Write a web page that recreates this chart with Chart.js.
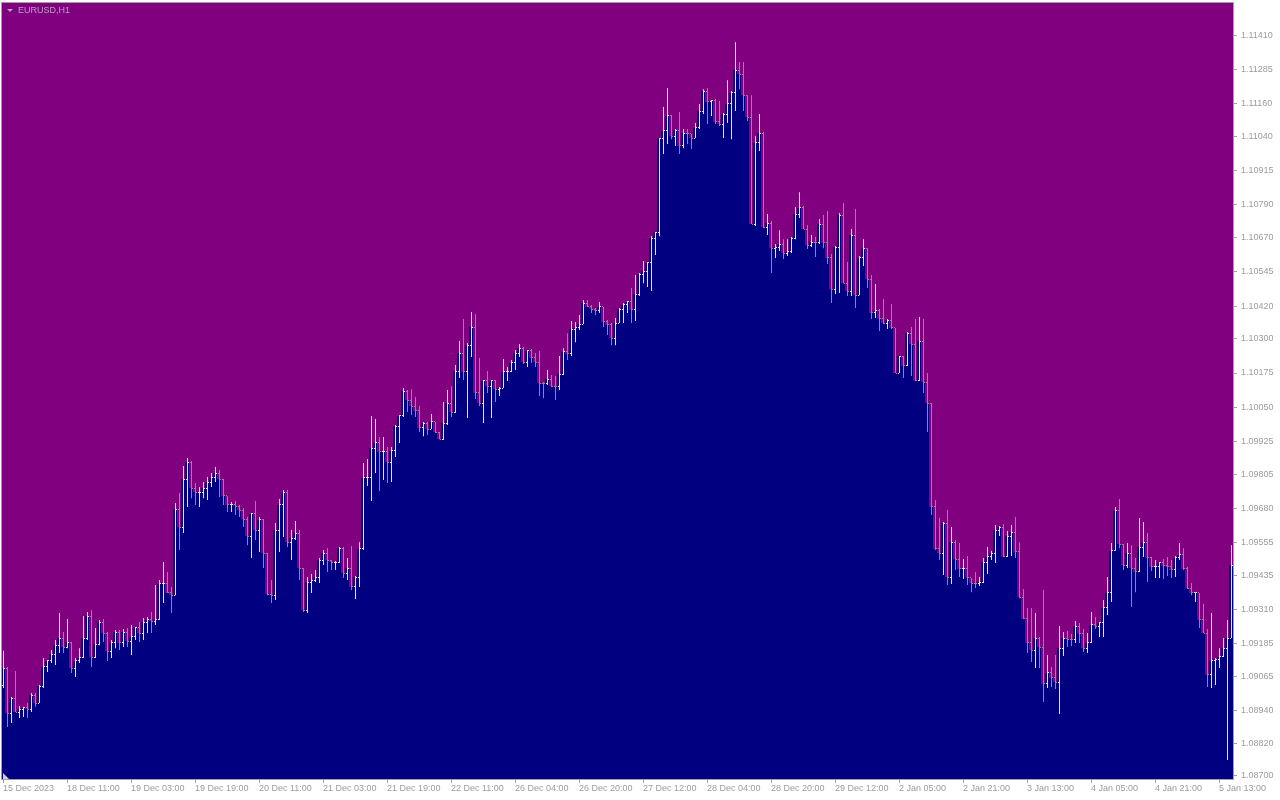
<!DOCTYPE html>
<html>
<head>
<meta charset="utf-8">
<script src="https://cdn.jsdelivr.net/npm/chart.js@4.4.1/dist/chart.umd.min.js"></script>
<style>
html,body{margin:0;padding:0;background:#ffffff;}
canvas{display:block;}
</style>
</head>
<body>
<canvas id="chart" width="1280" height="800"></canvas>
<script>
// ---------- data ----------
const symbolTitle = 'EURUSD,H1';
const TICK_EVERY = 16;
const tickLabels = ['15 Dec 2023','18 Dec 11:00','19 Dec 03:00','19 Dec 19:00','20 Dec 11:00','21 Dec 03:00','21 Dec 19:00','22 Dec 11:00','26 Dec 04:00','26 Dec 20:00','27 Dec 12:00','28 Dec 04:00','28 Dec 20:00','29 Dec 12:00','2 Jan 05:00','2 Jan 21:00','3 Jan 13:00','4 Jan 05:00','4 Jan 21:00','5 Jan 13:00'];
const yTickValues = [1.08700,1.08820,1.08940,1.09065,1.09185,1.09310,1.09435,1.09555,1.09680,1.09805,1.09925,1.10050,1.10175,1.10300,1.10420,1.10545,1.10670,1.10790,1.10915,1.11040,1.11160,1.11285,1.11410];
const Y_MIN = 1.08689;
const Y_MAX = 1.11533;

const open = [
1.09033,1.09095,1.08930,1.08985,1.08934,1.08945,1.08949,1.08945,1.08996,1.08967,
1.09029,1.09099,1.09121,1.09146,1.09179,1.09205,1.09172,1.09190,1.09095,1.09121,
1.09132,1.09205,1.09285,1.09135,1.09183,1.09263,1.09223,1.09157,1.09187,1.09227,
1.09187,1.09227,1.09194,1.09209,1.09245,1.09223,1.09263,1.09271,1.09267,1.09271,
1.09403,1.09406,1.09370,1.09362,1.09677,1.09611,1.09787,1.09849,1.09754,1.09739,
1.09739,1.09754,1.09776,1.09791,1.09809,1.09787,1.09725,1.09692,1.09692,1.09688,
1.09673,1.09640,1.09578,1.09659,1.09600,1.09637,1.09516,1.09366,1.09362,1.09600,
1.09692,1.09736,1.09556,1.09571,1.09589,1.09461,1.09307,1.09410,1.09417,1.09428,
1.09490,1.09516,1.09490,1.09483,1.09483,1.09534,1.09443,1.09461,1.09392,1.09428,
1.09531,1.09791,1.09794,1.09900,1.09919,1.09886,1.09886,1.09849,1.09890,1.09981,
1.10018,1.10109,1.10076,1.10054,1.10036,1.09974,1.09992,1.09970,1.09996,1.09959,
1.09933,1.09992,1.10065,1.10032,1.10182,1.10248,1.10179,1.10277,1.10343,1.10102,
1.10065,1.10146,1.10127,1.10146,1.10116,1.10120,1.10179,1.10182,1.10212,1.10248,
1.10266,1.10215,1.10256,1.10230,1.10215,1.10138,1.10135,1.10153,1.10127,1.10124,
1.10171,1.10252,1.10245,1.10336,1.10340,1.10354,1.10431,1.10417,1.10409,1.10402,
1.10417,1.10362,1.10351,1.10303,1.10358,1.10409,1.10424,1.10435,1.10406,1.10464,
1.10537,1.10548,1.10578,1.10669,1.10691,1.11035,1.11061,1.11116,1.11042,1.11064,
1.11006,1.11053,1.11050,1.11035,1.11072,1.11134,1.11207,1.11167,1.11171,1.11094,
1.11086,1.11123,1.11160,1.11200,1.11284,1.11269,1.11192,1.11112,1.10720,1.11017,
1.11053,1.10709,1.10724,1.10632,1.10636,1.10647,1.10614,1.10618,1.10669,1.10757,
1.10779,1.10702,1.10643,1.10654,1.10651,1.10720,1.10651,1.10596,1.10482,1.10636,
1.10753,1.10504,1.10475,1.10680,1.10460,1.10596,1.10632,1.10519,1.10395,1.10402,
1.10373,1.10358,1.10369,1.10340,1.10175,1.10237,1.10201,1.10321,1.10281,1.10146,
1.10292,1.10142,1.10065,1.09685,1.09531,1.09516,1.09626,1.09428,1.09556,1.09494,
1.09458,1.09458,1.09425,1.09406,1.09403,1.09410,1.09483,1.09502,1.09516,1.09600,
1.09611,1.09502,1.09578,1.09593,1.09520,1.09355,1.09275,1.09187,1.09161,1.09205,
1.09172,1.09037,1.09077,1.09059,1.09044,1.09168,1.09205,1.09201,1.09198,1.09249,
1.09220,1.09168,1.09187,1.09253,1.09249,1.09260,1.09315,1.09370,1.09524,1.09670,
1.09549,1.09472,1.09516,1.09461,1.09447,1.09538,1.09553,1.09498,1.09465,1.09465,
1.09480,1.09469,1.09465,1.09454,1.09498,1.09509,1.09458,1.09388,1.09370,1.09370,
1.09271,1.09223,1.09070,1.09121,1.09128,1.09136,1.09168,1.09205
];
const high = [
1.09158,1.09099,1.08989,1.09084,1.08956,1.08953,1.08967,1.09004,1.09004,1.09033,
1.09132,1.09125,1.09161,1.09198,1.09297,1.09227,1.09275,1.09190,1.09132,1.09168,
1.09286,1.09300,1.09308,1.09242,1.09271,1.09275,1.09227,1.09198,1.09234,1.09234,
1.09238,1.09242,1.09253,1.09245,1.09264,1.09278,1.09282,1.09300,1.09399,1.09417,
1.09483,1.09447,1.09392,1.09699,1.09736,1.09835,1.09864,1.09853,1.09772,1.09758,
1.09776,1.09794,1.09809,1.09831,1.09820,1.09787,1.09725,1.09703,1.09707,1.09692,
1.09681,1.09648,1.09663,1.09707,1.09648,1.09641,1.09516,1.09417,1.09626,1.09714,
1.09747,1.09747,1.09600,1.09633,1.09600,1.09461,1.09428,1.09439,1.09454,1.09498,
1.09527,1.09534,1.09491,1.09487,1.09538,1.09538,1.09498,1.09542,1.09432,1.09556,
1.09846,1.09860,1.10018,1.10007,1.09941,1.09941,1.09904,1.09904,1.09985,1.10021,
1.10120,1.10113,1.10116,1.10087,1.10054,1.09996,1.09996,1.10025,1.09996,1.09959,
1.10069,1.10113,1.10127,1.10204,1.10292,1.10373,1.10285,1.10398,1.10391,1.10230,
1.10149,1.10182,1.10149,1.10149,1.10124,1.10226,1.10197,1.10223,1.10259,1.10281,
1.10270,1.10259,1.10263,1.10248,1.10256,1.10142,1.10186,1.10168,1.10164,1.10237,
1.10266,1.10321,1.10365,1.10362,1.10387,1.10442,1.10442,1.10424,1.10413,1.10435,
1.10417,1.10369,1.10358,1.10376,1.10413,1.10431,1.10439,1.10486,1.10534,1.10541,
1.10585,1.10581,1.10676,1.10691,1.11035,1.11149,1.11218,1.11119,1.11068,1.11130,
1.11068,1.11068,1.11050,1.11090,1.11160,1.11214,1.11218,1.11174,1.11178,1.11171,
1.11127,1.11247,1.11207,1.11386,1.11313,1.11313,1.11192,1.11192,1.11042,1.11123,
1.11057,1.10757,1.10731,1.10647,1.10698,1.10665,1.10665,1.10673,1.10783,1.10837,
1.10786,1.10717,1.10680,1.10673,1.10739,1.10753,1.10768,1.10611,1.10640,1.10761,
1.10797,1.10581,1.10702,1.10775,1.10603,1.10665,1.10632,1.10534,1.10501,1.10409,
1.10446,1.10373,1.10428,1.10340,1.10237,1.10237,1.10325,1.10343,1.10373,1.10380,
1.10373,1.10175,1.10065,1.09710,1.09644,1.09630,1.09674,1.09611,1.09564,1.09553,
1.09494,1.09505,1.09425,1.09447,1.09428,1.09498,1.09538,1.09524,1.09619,1.09615,
1.09622,1.09597,1.09619,1.09648,1.09556,1.09384,1.09315,1.09315,1.09297,1.09209,
1.09381,1.09143,1.09099,1.09143,1.09249,1.09227,1.09231,1.09220,1.09267,1.09260,
1.09238,1.09223,1.09300,1.09282,1.09264,1.09344,1.09428,1.09553,1.09685,1.09714,
1.09549,1.09553,1.09545,1.09498,1.09644,1.09630,1.09589,1.09502,1.09491,1.09483,
1.09494,1.09502,1.09491,1.09505,1.09553,1.09534,1.09465,1.09406,1.09373,1.09370,
1.09330,1.09238,1.09297,1.09132,1.09168,1.09205,1.09271,1.09545
];
const low = [
1.09022,1.08879,1.08894,1.08934,1.08912,1.08916,1.08912,1.08934,1.08953,1.08967,
1.09022,1.09081,1.09114,1.09106,1.09150,1.09150,1.09168,1.09077,1.09062,1.09114,
1.09132,1.09198,1.09099,1.09132,1.09179,1.09190,1.09121,1.09132,1.09168,1.09161,
1.09172,1.09172,1.09143,1.09198,1.09190,1.09198,1.09223,1.09223,1.09253,1.09271,
1.09333,1.09370,1.09297,1.09362,1.09527,1.09589,1.09685,1.09717,1.09692,1.09685,
1.09717,1.09710,1.09758,1.09776,1.09721,1.09692,1.09666,1.09666,1.09655,1.09648,
1.09611,1.09545,1.09498,1.09564,1.09520,1.09461,1.09362,1.09333,1.09344,1.09520,
1.09575,1.09538,1.09491,1.09564,1.09417,1.09300,1.09297,1.09370,1.09410,1.09406,
1.09472,1.09447,1.09454,1.09454,1.09480,1.09425,1.09417,1.09381,1.09348,1.09392,
1.09527,1.09761,1.09707,1.09809,1.09743,1.09783,1.09772,1.09776,1.09868,1.09919,
1.10014,1.10032,1.10021,1.10014,1.09959,1.09944,1.09948,1.09970,1.09955,1.09933,
1.09930,1.09985,1.10014,1.10029,1.10157,1.10149,1.10010,1.10234,1.10080,1.10054,
1.09992,1.10102,1.10010,1.10069,1.10091,1.10120,1.10146,1.10179,1.10186,1.10234,
1.10208,1.10197,1.10212,1.10197,1.10091,1.10083,1.10131,1.10124,1.10076,1.10113,
1.10168,1.10223,1.10237,1.10288,1.10332,1.10354,1.10417,1.10395,1.10387,1.10395,
1.10343,1.10314,1.10277,1.10277,1.10358,1.10358,1.10395,1.10358,1.10365,1.10457,
1.10504,1.10490,1.10475,1.10607,1.10676,1.10977,1.11013,1.11031,1.11006,1.10977,
1.10998,1.11013,1.10995,1.11035,1.11068,1.11123,1.11086,1.11116,1.11086,1.11079,
1.11035,1.11090,1.11031,1.11134,1.11214,1.11134,1.11097,1.10720,1.10713,1.10988,
1.10706,1.10680,1.10541,1.10596,1.10622,1.10592,1.10603,1.10614,1.10665,1.10742,
1.10702,1.10629,1.10636,1.10600,1.10647,1.10632,1.10574,1.10431,1.10464,1.10468,
1.10504,1.10457,1.10457,1.10413,1.10460,1.10567,1.10486,1.10373,1.10376,1.10329,
1.10354,1.10336,1.10336,1.10175,1.10175,1.10157,1.10201,1.10164,1.10146,1.10146,
1.10102,1.09959,1.09655,1.09527,1.09491,1.09436,1.09399,1.09403,1.09454,1.09428,
1.09421,1.09399,1.09373,1.09388,1.09395,1.09406,1.09439,1.09491,1.09480,1.09578,
1.09502,1.09502,1.09505,1.09498,1.09351,1.09275,1.09150,1.09117,1.09095,1.09095,
1.08971,1.09022,1.09026,1.09018,1.08927,1.09139,1.09172,1.09176,1.09187,1.09187,
1.09154,1.09150,1.09187,1.09238,1.09209,1.09209,1.09289,1.09337,1.09524,1.09534,
1.09454,1.09461,1.09319,1.09373,1.09447,1.09502,1.09410,1.09450,1.09425,1.09425,
1.09421,1.09432,1.09425,1.09428,1.09491,1.09454,1.09384,1.09362,1.09337,1.09242,
1.09223,1.09026,1.09022,1.09033,1.09095,1.09136,1.08759,1.09205
];
const close = [
1.09095,1.08930,1.08985,1.08934,1.08945,1.08949,1.08945,1.08996,1.08967,1.09029,
1.09099,1.09121,1.09146,1.09179,1.09205,1.09172,1.09190,1.09095,1.09121,1.09132,
1.09205,1.09285,1.09135,1.09183,1.09263,1.09223,1.09157,1.09187,1.09227,1.09187,
1.09227,1.09194,1.09209,1.09245,1.09223,1.09263,1.09271,1.09267,1.09271,1.09403,
1.09406,1.09370,1.09362,1.09677,1.09611,1.09787,1.09849,1.09754,1.09739,1.09739,
1.09754,1.09776,1.09791,1.09809,1.09787,1.09725,1.09692,1.09692,1.09688,1.09673,
1.09640,1.09578,1.09659,1.09600,1.09637,1.09516,1.09366,1.09362,1.09600,1.09692,
1.09736,1.09556,1.09571,1.09589,1.09461,1.09307,1.09410,1.09417,1.09428,1.09490,
1.09516,1.09490,1.09483,1.09483,1.09534,1.09443,1.09461,1.09392,1.09428,1.09531,
1.09791,1.09794,1.09900,1.09919,1.09886,1.09886,1.09849,1.09890,1.09981,1.10018,
1.10109,1.10076,1.10054,1.10036,1.09974,1.09992,1.09970,1.09996,1.09959,1.09933,
1.09992,1.10065,1.10032,1.10182,1.10248,1.10179,1.10277,1.10343,1.10102,1.10065,
1.10146,1.10127,1.10146,1.10116,1.10120,1.10179,1.10182,1.10212,1.10248,1.10266,
1.10215,1.10256,1.10230,1.10215,1.10138,1.10135,1.10153,1.10127,1.10124,1.10171,
1.10252,1.10245,1.10336,1.10340,1.10354,1.10431,1.10417,1.10409,1.10402,1.10417,
1.10362,1.10351,1.10303,1.10358,1.10409,1.10424,1.10435,1.10406,1.10464,1.10537,
1.10548,1.10578,1.10669,1.10691,1.11035,1.11061,1.11116,1.11042,1.11064,1.11006,
1.11053,1.11050,1.11035,1.11072,1.11134,1.11207,1.11167,1.11171,1.11094,1.11086,
1.11123,1.11160,1.11200,1.11284,1.11269,1.11192,1.11112,1.10720,1.11017,1.11053,
1.10709,1.10724,1.10632,1.10636,1.10647,1.10614,1.10618,1.10669,1.10757,1.10779,
1.10702,1.10643,1.10654,1.10651,1.10720,1.10651,1.10596,1.10482,1.10636,1.10753,
1.10504,1.10475,1.10680,1.10460,1.10596,1.10632,1.10519,1.10395,1.10402,1.10373,
1.10358,1.10369,1.10340,1.10175,1.10237,1.10201,1.10321,1.10281,1.10146,1.10292,
1.10142,1.10065,1.09685,1.09531,1.09516,1.09626,1.09428,1.09556,1.09494,1.09458,
1.09458,1.09425,1.09406,1.09403,1.09410,1.09483,1.09502,1.09516,1.09600,1.09611,
1.09502,1.09578,1.09593,1.09520,1.09355,1.09275,1.09187,1.09161,1.09205,1.09172,
1.09037,1.09077,1.09059,1.09044,1.09168,1.09205,1.09201,1.09198,1.09249,1.09220,
1.09168,1.09187,1.09253,1.09249,1.09260,1.09315,1.09370,1.09524,1.09670,1.09549,
1.09472,1.09516,1.09461,1.09447,1.09538,1.09553,1.09498,1.09465,1.09465,1.09480,
1.09469,1.09465,1.09454,1.09498,1.09509,1.09458,1.09388,1.09370,1.09370,1.09271,
1.09223,1.09070,1.09121,1.09128,1.09136,1.09168,1.09205,1.09472
];

// ---------- styles ----------
const PLOT_BG = '#800080';
const FILL = '#000080';
const UP_COLOR = '#e4e4f0';
const DOWN_COLOR = '#8c8c8c';
const AXIS_TEXT = '#9c9c9c';
const AXIS_LINE = '#a0a0a0';
const TITLE_COLOR = '#b8a2c0';
const FONT = '"Liberation Sans", Arial, sans-serif';

const categories = close.map((_, i) => i);
const barColors = close.map((c, i) => (c >= open[i] ? UP_COLOR : DOWN_COLOR));

const backgroundPlugin = {
  id: 'mtBackground',
  beforeDraw(chart) {
    const { ctx, chartArea: a } = chart;
    ctx.save();
    ctx.fillStyle = '#ffffff';
    ctx.fillRect(0, 0, chart.width, chart.height);
    ctx.fillStyle = PLOT_BG;
    ctx.fillRect(a.left, a.top, a.right - a.left, a.bottom - a.top);
    ctx.restore();
  }
};

// shift the 1px wick bars by half a pixel so they land on whole pixels
const wickShiftPlugin = {
  id: 'wickShift',
  beforeDatasetDraw(chart, args) {
    if (args.index === 0) { chart.ctx.save(); chart.ctx.translate(0.5, 0); }
  },
  afterDatasetDraw(chart, args) {
    if (args.index === 0) { chart.ctx.restore(); }
  }
};

// open (left) and close (right) ticks of every bar, placed with the chart scales
const ocTicksPlugin = {
  id: 'ocTicks',
  afterDatasetsDraw(chart) {
    const { ctx, chartArea: a, scales } = chart;
    const xs = scales.x, ys = scales.y;
    ctx.save();
    ctx.beginPath();
    ctx.rect(a.left, a.top, a.right - a.left, a.bottom - a.top);
    ctx.clip();
    for (let i = 0; i < close.length; i++) {
      const px = Math.round(xs.getPixelForValue(i));
      ctx.fillStyle = barColors[i];
      ctx.fillRect(px - 1, Math.floor(ys.getPixelForValue(open[i])), 1, 1);
      ctx.fillRect(px + 1, Math.floor(ys.getPixelForValue(close[i])), 1, 1);
    }
    ctx.restore();
  }
};

const framePlugin = {
  id: 'mtFrame',
  afterDraw(chart) {
    const { ctx, chartArea: a } = chart;
    ctx.save();
    ctx.strokeStyle = AXIS_LINE;
    ctx.lineWidth = 1;
    ctx.strokeRect(a.left + 0.5, a.top + 0.5, a.right - a.left, a.bottom - a.top);
    // title with the small drop-down triangle
    ctx.fillStyle = TITLE_COLOR;
    ctx.beginPath();
    ctx.moveTo(a.left + 6, a.top + 7);
    ctx.lineTo(a.left + 12, a.top + 7);
    ctx.lineTo(a.left + 9, a.top + 10);
    ctx.closePath();
    ctx.fill();
    ctx.font = '9px ' + FONT;
    ctx.textBaseline = 'middle';
    ctx.textAlign = 'left';
    ctx.fillText(symbolTitle, a.left + 17, a.top + 9);
    // small corner marker at bottom-left
    ctx.fillStyle = '#d0d0d8';
    ctx.beginPath();
    ctx.moveTo(a.left + 2, a.bottom - 6);
    ctx.lineTo(a.left + 2, a.bottom);
    ctx.lineTo(a.left + 8, a.bottom);
    ctx.closePath();
    ctx.fill();
    ctx.restore();
  }
};

Chart.defaults.font.family = FONT;
Chart.defaults.font.size = 9;

new Chart(document.getElementById('chart').getContext('2d'), {
  type: 'bar',
  data: {
    labels: categories,
    datasets: [
      {
        label: 'High-Low',
        data: low.map((l, i) => [l, high[i]]),
        backgroundColor: barColors,
        borderWidth: 0,
        barThickness: 1,
        grouped: false,
        inflateAmount: 0,
        order: 0
      },
      {
        label: 'Close',
        data: close,
        base: Y_MIN,
        backgroundColor: FILL,
        borderWidth: 0,
        barPercentage: 1,
        categoryPercentage: 1,
        grouped: false,
        inflateAmount: 0,
        order: 1
      }
    ]
  },
  options: {
    responsive: false,
    animation: false,
    devicePixelRatio: 1,
    events: [],
    layout: { padding: { left: 1, top: 2, right: 0, bottom: 0 } },
    plugins: { legend: { display: false }, tooltip: { enabled: false }, title: { display: false } },
    scales: {
      x: {
        type: 'category',
        offset: true,
        grid: { offset: false, drawOnChartArea: false, drawTicks: true, tickLength: 4, color: AXIS_LINE },
        border: { display: false },
        ticks: {
          autoSkip: false, maxRotation: 0, minRotation: 0, align: 'start', padding: 0,
          color: AXIS_TEXT, font: { family: FONT, size: 9 },
          callback: (v) => tickLabels[Math.round(v / TICK_EVERY)]
        },
        afterBuildTicks: (s) => { s.ticks = s.ticks.filter(t => t.value % TICK_EVERY === 0); },
        afterFit: (s) => { s.height = 21; s.paddingLeft = 0; s.paddingRight = 0; s.paddingTop = 0; s.paddingBottom = 0; }
      },
      y: {
        type: 'linear',
        position: 'right',
        min: Y_MIN,
        max: Y_MAX,
        grid: { drawOnChartArea: false, drawTicks: true, tickLength: 4, color: AXIS_LINE },
        border: { display: false },
        ticks: {
          autoSkip: false, padding: 4, color: AXIS_TEXT, font: { family: FONT, size: 9 },
          callback: (v) => Number(v).toFixed(5)
        },
        afterBuildTicks: (s) => { s.ticks = yTickValues.map(v => ({ value: v })); },
        afterFit: (s) => { s.width = 47; s.paddingLeft = 0; s.paddingRight = 0; s.paddingTop = 0; s.paddingBottom = 0; }
      }
    }
  },
  plugins: [backgroundPlugin, wickShiftPlugin, ocTicksPlugin, framePlugin]
});
</script>
</body>
</html>
